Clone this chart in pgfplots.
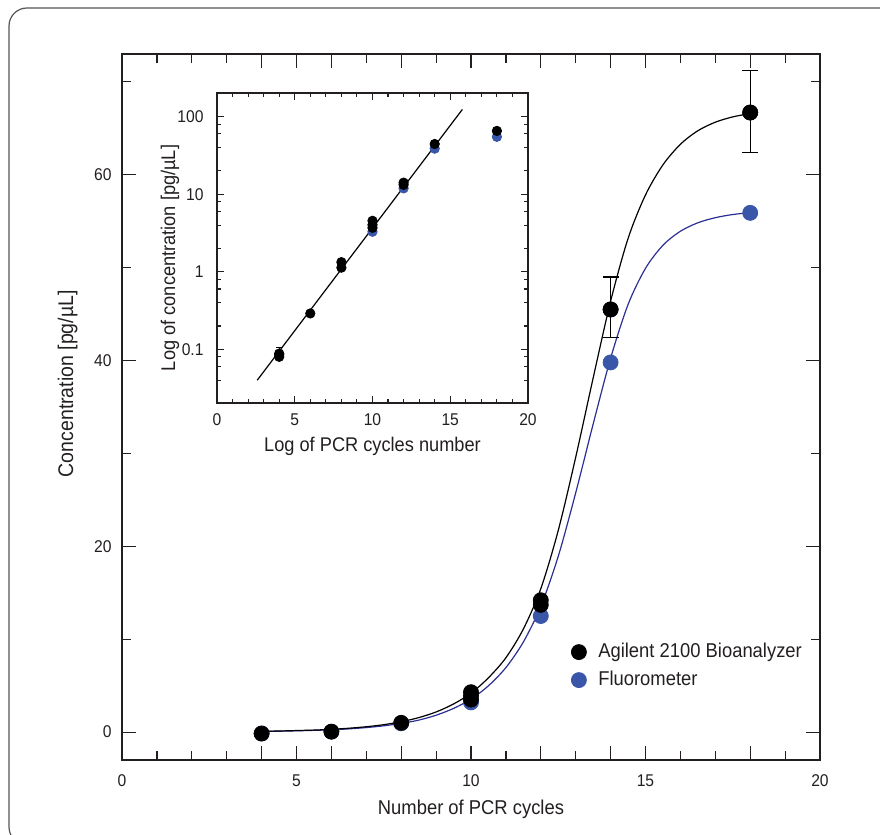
\documentclass[border=0pt]{standalone}
\usepackage{fontspec}
\setmainfont{Liberation Sans}[FakeStretch=0.92]
\usepackage{pgfplots}
\pgfplotsset{compat=1.18}
\definecolor{ink}{HTML}{231F20}
\definecolor{fluoBlue}{HTML}{3A56A8}
\definecolor{fluoLine}{HTML}{2B2F93}
\definecolor{frameGray}{HTML}{555555}

\begin{document}
\begin{tikzpicture}
\useasboundingbox (0,0) rectangle (440pt,417.5pt);
\clip (0,0) rectangle (440pt,417.5pt);
\draw[frameGray, line width=0.6pt, rounded corners=9pt] (4.5pt,-5pt) rectangle (450pt,413.5pt);

% main chart
\begin{axis}[
  at={(61pt,37.5pt)}, anchor=south west, scale only axis,
  width=349pt, height=353pt,
  xmin=0, xmax=20, ymin=-3, ymax=73,
  xtick={0,4,5,6,8,10,12,14,15,18,20},
  xticklabels={0,,5,,,10,,,15,,20},
  minor xtick={1,2,3,7,9,11,13,16,17,19},
  ytick={0,20,40,60}, minor ytick={10,30,50,70},
  tick align=inside, major tick length=7pt, minor tick length=4.5pt,
  axis line style={ink, line width=0.9pt},
  tick style={ink, line width=0.6pt},
  /pgf/number format/assume math mode=true,
  tick label style={font=\fontsize{8.5}{10}\selectfont, text=ink},
  xticklabel style={yshift=-3.7pt},
  yticklabel style={xshift=-1.7pt},
  xlabel={Number of PCR cycles},
  ylabel={Concentration [pg/µL]},
  xlabel style={font=\fontsize{10}{12}\selectfont, text=ink,
    at={(axis description cs:0.5,-0.0765)}, anchor=base},
  ylabel style={font=\fontsize{10.6}{12}\selectfont, text=ink,
    at={(axis description cs:-0.070,0.533)}, anchor=base},
  reverse legend,
  legend style={at={(rel axis cs:0.642,0.133)}, anchor=west, draw=none, fill=none,
    font=\fontsize{10}{12}\selectfont, text=ink, inner sep=0pt, row sep=3.5pt,
    cells={anchor=west},
    nodes={inner ysep=0.5pt, inner xsep=2pt, text height=7.5pt, text depth=2pt}},
  legend image code/.code={\path (0pt,-1pt) (11.5pt,1pt);
    \draw[mark repeat=2,mark phase=2] plot coordinates {(0pt,0pt)(4pt,0pt)(8pt,0pt)};},
]
% fitted curves
\addplot[fluoLine, line width=0.6pt, smooth, forget plot] table {
x y
4 0.08
4.5 0.10
5 0.14
5.5 0.19
6 0.25
6.5 0.35
7 0.49
7.5 0.68
8 0.94
8.5 1.29
9 1.82
9.5 2.55
10 3.55
10.5 4.99
11 6.95
11.5 9.70
12 13.54
12.5 18.93
13 25.76
13.5 33.16
14 40.25
14.5 46.03
15 49.93
15.5 52.41
16 53.92
16.5 54.83
17 55.38
17.5 55.72
18 55.92
};
\addplot[black, line width=0.6pt, smooth, forget plot] table {
x y
4 0.09
4.5 0.12
5 0.17
5.5 0.22
6 0.30
6.5 0.42
7 0.58
7.5 0.80
8 1.12
8.5 1.56
9 2.17
9.5 3.03
10 4.19
10.5 5.85
11 8.01
11.5 11.10
12 15.44
12.5 21.71
13 29.59
13.5 38.12
14 46.38
14.5 53.14
15 57.83
15.5 61.07
16 63.28
16.5 64.74
17 65.66
17.5 66.23
18 66.59
};
% error bars on Bioanalyzer points
\addplot[black, only marks, mark=*, mark size=3.75pt, forget plot,
  error bars/.cd, y dir=both, y explicit,
  error bar style={line width=0.6pt},
  error mark options={rotate=90, mark size=4pt, line width=0.6pt}]
  table[x=x, y=y, y error plus=ep, y error minus=em] {
x y ep em
14 45.5 3.5 3.0
18 66.7 4.5 4.3
};
\addplot[only marks, mark=*, mark size=3.75pt, draw=fluoBlue, fill=fluoBlue,
  mark options={draw=fluoBlue, fill=fluoBlue}] table {
x y
4 -0.15
6 0.05
8 0.95
10 3.2
12 12.5
14 39.8
18 55.9
};
\addlegendentry{Fluorometer}
\addplot[only marks, mark=*, mark size=3.75pt, black] table {
x y
4 -0.15
6 0.05
8 1.0
10 3.5
10 3.9
10 4.3
12 13.7
12 14.2
14 45.5
18 66.7
};
\addlegendentry{Agilent 2100 Bioanalyzer}
\end{axis}

% inset: log scale
\begin{axis}[
  at={(108.5pt,216pt)}, anchor=south west, scale only axis,
  width=155.5pt, height=155pt,
  xmin=0, xmax=20, ymode=log, ymin=0.0203, ymax=202,
  xtick={0,5,10,15,20}, minor xtick={1,2,3,4,6,7,8,9,11,12,13,14,16,17,18,19},
  ytick={0.1,1,10,100}, yticklabels={0.1,1,10,100},
  minor ytick={0.02,0.04,0.06,0.08,0.2,0.4,0.6,0.8,2,4,6,8,20,40,60,80,200},
  tick align=inside, major tick length=3.5pt, minor tick length=2pt,
  axis line style={ink, line width=0.8pt},
  tick style={ink, line width=0.55pt},
  axis background/.style={fill=white},
  /pgf/number format/assume math mode=true,
  tick label style={font=\fontsize{8.5}{10}\selectfont, text=ink},
  xticklabel style={yshift=-2pt},
  yticklabel style={xshift=-3.2pt},
  xlabel={Log of PCR cycles number},
  ylabel={Log of concentration [pg/µL]},
  label style={font=\fontsize{9.9}{11}\selectfont, text=ink},
  xlabel style={at={(axis description cs:0.5,-0.157)}, anchor=base},
  ylabel style={at={(axis description cs:-0.135,0.468)}, anchor=base},
]
\addplot[black, line width=0.6pt] table {
x y
2.59 0.040
15.78 124
};
\addplot[only marks, mark=*, mark size=2.35pt, draw=fluoBlue, fill=fluoBlue,
  mark options={draw=fluoBlue, fill=fluoBlue}] table {
x y
10 3.28
12 11.9
14 38.7
18 55
};
\addplot[black, only marks, mark=*, mark size=2.35pt,
  error bars/.cd, y dir=plus, y explicit,
  error bar style={line width=0.5pt},
  error mark options={rotate=90, mark size=1.6pt, line width=0.5pt}]
  table[x=x, y=y, y error plus=ep] {
x y ep
4 0.085 0.021
};
\addplot[black, only marks, mark=*, mark size=2.35pt] table {
x y
4 0.080
4 0.088
6 0.29
8 1.33
8 1.13
10 4.54
10 4.03
10 3.69
12 14.1
12 13.2
14 44.4
18 65.5
};
\end{axis}
\end{tikzpicture}
\end{document}
